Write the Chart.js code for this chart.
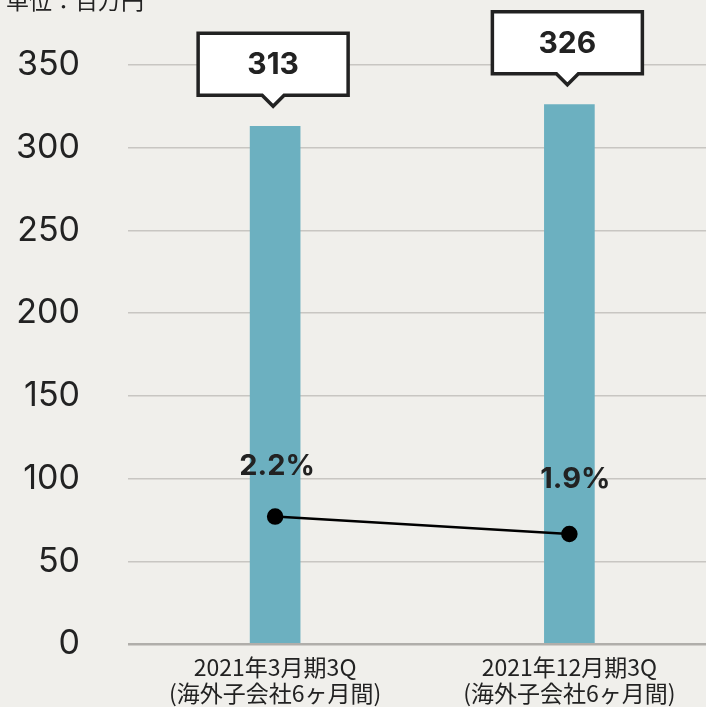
<!DOCTYPE html>
<html><head><meta charset="utf-8">
<script src="https://cdn.jsdelivr.net/npm/chart.js@4"></script>
<style>html,body{margin:0;padding:0;background:#f0efeb;overflow:hidden;width:706px;height:707px}#w{width:726px;height:707px}canvas{display:block}</style>
</head><body>
<div id="w"><canvas id="c" width="726" height="707" style="width:726px;height:707px"></canvas></div>
<script>
const categories = [["2021年3月期3Q","(海外子会社6ヶ月間)"],["2021年12月期3Q","(海外子会社6ヶ月間)"]];
const salesValues = [313, 326];
const marginValues = [2.2, 1.9];
const yTicks = [0, 50, 100, 150, 200, 250, 300, 350];
const unitLabel = "単位：百万円";

const labelPlugin = {
  id: 'labels',
  afterDatasetsDraw(chart) {
    const ctx = chart.ctx;
    ctx.save();
    ctx.fillStyle = '#222';
    ctx.font = '23px "Noto Sans CJK JP"';
    ctx.textAlign = 'left';
    ctx.textBaseline = 'bottom';
    ctx.fillText(unitLabel, 6, 12);
    const bars = chart.getDatasetMeta(1).data;
    bars.forEach((b, i) => {
      const cx = b.x - 2, tip = b.y - 20, bh = 62, bw = 150;
      const bottom = tip - 11, top = bottom - bh;
      ctx.beginPath();
      ctx.moveTo(cx - bw/2, top);
      ctx.lineTo(cx + bw/2, top);
      ctx.lineTo(cx + bw/2, bottom);
      ctx.lineTo(cx + 11, bottom);
      ctx.lineTo(cx, tip);
      ctx.lineTo(cx - 11, bottom);
      ctx.lineTo(cx - bw/2, bottom);
      ctx.closePath();
      ctx.fillStyle = '#fff';
      ctx.fill();
      ctx.lineWidth = 3.5;
      ctx.strokeStyle = '#222';
      ctx.lineJoin = 'miter';
      ctx.stroke();
      ctx.fillStyle = '#222';
      ctx.font = 'bold 30px Inter';
      ctx.textAlign = 'center';
      ctx.textBaseline = 'middle';
      ctx.fillText(String(salesValues[i]), cx, (top + bottom) / 2 + 1);
    });
    const pts = chart.getDatasetMeta(0).data;
    pts.forEach((p, i) => {
      ctx.fillStyle = '#222';
      ctx.font = 'bold 29px Inter';
      ctx.textAlign = 'center';
      ctx.textBaseline = 'middle';
      ctx.fillText(marginValues[i].toFixed(1) + '%', p.x + 2 + i * 4, p.y - 50 + i * (-5));
    });
    ctx.restore();
  }
};

new Chart(document.getElementById('c'), {
  data: {
    labels: categories,
    datasets: [
      { type: 'line', data: marginValues, yAxisID: 'y1', borderColor: '#000', borderWidth: 2.5,
        pointRadius: 7, pointBackgroundColor: '#000', pointBorderColor: '#000', order: 0 },
      { type: 'bar', data: salesValues, yAxisID: 'y', backgroundColor: '#6cb0c0', barThickness: 50, order: 1 }
    ]
  },
  options: {
    responsive: false,
    animation: false,
    layout: { padding: { top: 65, left: 0, right: 0, bottom: 0 } },
    plugins: { legend: { display: false }, tooltip: { enabled: false } },
    scales: {
      x: {
        offset: true,
        grid: { display: false, drawTicks: false },
        border: { display: false },
        ticks: { color: '#222', font: { family: '"Noto Sans CJK JP"', size: 23, lineHeight: 1.1 }, padding: 11 },
        afterFit(s) { s.height = 63; s.paddingLeft = 0; s.paddingRight = 0; }
      },
      y: {
        min: 0, max: 350,
        afterBuildTicks(s) { s.ticks = yTicks.map(v => ({ value: v })); },
        grid: { color: ctx => ctx.tick && ctx.tick.value === 0 ? '#b0aeaa' : '#c8c6c2', lineWidth: ctx => ctx.tick && ctx.tick.value === 0 ? 2.5 : 1.5, drawTicks: false },
        border: { display: false },
        ticks: { color: '#222', font: { family: 'Inter', size: 34 }, padding: 48 },
        afterFit(s) { s.width = 128; s.paddingTop = 0; s.paddingBottom = 0; }
      },
      y1: { display: false, min: 0, max: 10 }
    }
  },
  plugins: [labelPlugin]
});
</script>
</body></html>
